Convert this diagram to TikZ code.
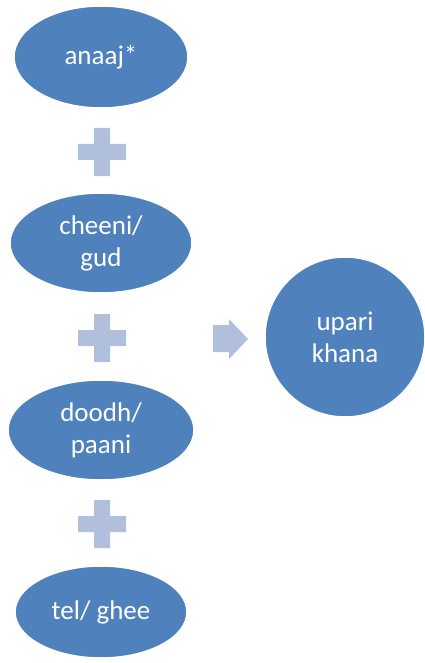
\documentclass[tikz,border=0pt]{standalone}
\usepackage{fontspec}
\setmainfont{Carlito}
\usetikzlibrary{shapes.geometric}
\definecolor{blobblue}{HTML}{4F81BD}
\definecolor{pluscol}{HTML}{B0C0DC}
\begin{document}
\begin{tikzpicture}[x=1pt,y=-1pt,
  blob/.style={ellipse, fill=blobblue, draw=white, line width=1.5pt, inner sep=0pt,
    text=white, align=center, font=\fontsize{27}{32}\selectfont},
  plussign/.style={fill=pluscol, draw=none}]
\useasboundingbox[fill=white] (0,0) rectangle (425,663);
\node[blob, minimum width=174, minimum height=102] (anaaj) at (101,57) {anaaj*};
\node[blob, minimum width=182, minimum height=100] (cheeni) at (101,243) {cheeni/\\gud};
\node[blob, minimum width=186, minimum height=100] (doodh) at (101,430) {doodh/\\paani};
\node[blob, minimum width=172, minimum height=92] (tel) at (101,612) {tel/ ghee};
\node[blob, circle, minimum size=160] (upari) at (345,337) {upari\\khana};
\foreach \cy in {152,338,524}{
  \fill[plussign] (94,\cy-24) -- (110,\cy-24) -- (110,\cy-8) -- (126,\cy-8) -- (126,\cy+8)
    -- (110,\cy+8) -- (110,\cy+24) -- (94,\cy+24) -- (94,\cy+8) -- (78,\cy+8)
    -- (78,\cy-8) -- (94,\cy-8) -- cycle;
}
\fill[plussign] (213,325) -- (229,325) -- (229,319) -- (248,339) -- (229,359) -- (229,352) -- (213,352) -- cycle;
\end{tikzpicture}
\end{document}
